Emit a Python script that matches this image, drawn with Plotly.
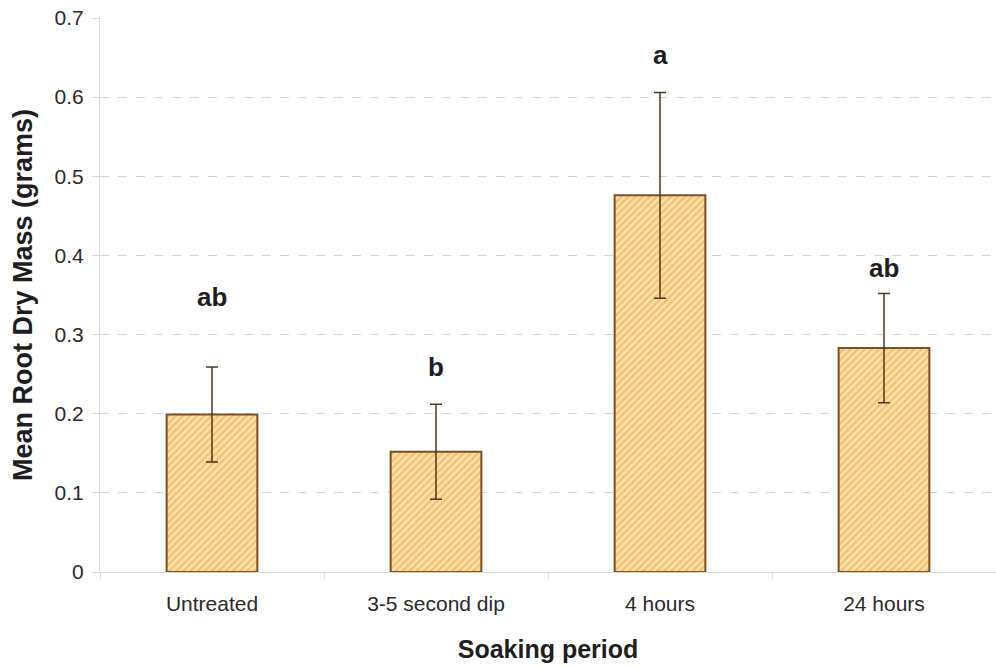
import plotly.graph_objects as go

categories = ["Untreated", "3-5 second dip", "4 hours", "24 hours"]
means = [0.199, 0.152, 0.476, 0.283]
errors = [0.060, 0.060, 0.130, 0.069]
letters = ["ab", "b", "a", "ab"]
letter_y = [0.347, 0.259, 0.653, 0.384]
y_ticks = [0, 0.1, 0.2, 0.3, 0.4, 0.5, 0.6, 0.7]
y_tick_text = ["0", "0.1", "0.2", "0.3", "0.4", "0.5", "0.6", "0.7"]

FONT = "Liberation Sans, Arial"

fig = go.Figure()
fig.add_trace(go.Bar(
    x=categories, y=means, width=0.405,
    marker=dict(
        color="#FCE4A0",
        line=dict(color="#7E4E22", width=2),
        pattern=dict(shape="/", fgcolor="#EC9A58", bgcolor="#FCE4A0", size=5, solidity=0.5),
    ),
    error_y=dict(type="data", array=errors, visible=True, color="#4A3622", thickness=1.5, width=6),
    showlegend=False,
))

for c, t, yy in zip(categories, letters, letter_y):
    fig.add_annotation(x=c, y=yy, text="<b>%s</b>" % t, showarrow=False,
                       font=dict(size=26, color="#1E1E1E", family=FONT))

fig.update_layout(
    width=996, height=668,
    margin=dict(l=100, r=0, t=18, b=96),
    plot_bgcolor="white", paper_bgcolor="white",
    font=dict(family=FONT, color="#333333"),
)
fig.update_xaxes(
    range=[-0.5, 3.5], showline=True, linecolor="#D8D8D8", linewidth=1,
    ticks="outside", ticklen=6, tickcolor="#E0E0E0", tickson="boundaries",
    ticklabelstandoff=13,
    tickfont=dict(size=21, color="#2A2A2A"),
    title=dict(text="<b>Soaking period</b>", font=dict(size=25, color="#1E1E1E"), standoff=26),
    automargin=False,
)
fig.update_yaxes(
    range=[0, 0.7], tickvals=y_ticks, ticktext=y_tick_text,
    showline=True, linecolor="#D8D8D8", linewidth=1,
    ticks="outside", ticklen=7, tickcolor="#D8D8D8",
    ticklabelstandoff=4,
    tickfont=dict(size=21, color="#2A2A2A"),
    showgrid=True, gridcolor="#D4D4D4", griddash="dash", gridwidth=1,
    zeroline=False,
    title=dict(text="<b>Mean Root Dry Mass (grams)</b>", font=dict(size=27, color="#1E1E1E"), standoff=14),
    automargin=False,
)

fig.write_html("out.html")
